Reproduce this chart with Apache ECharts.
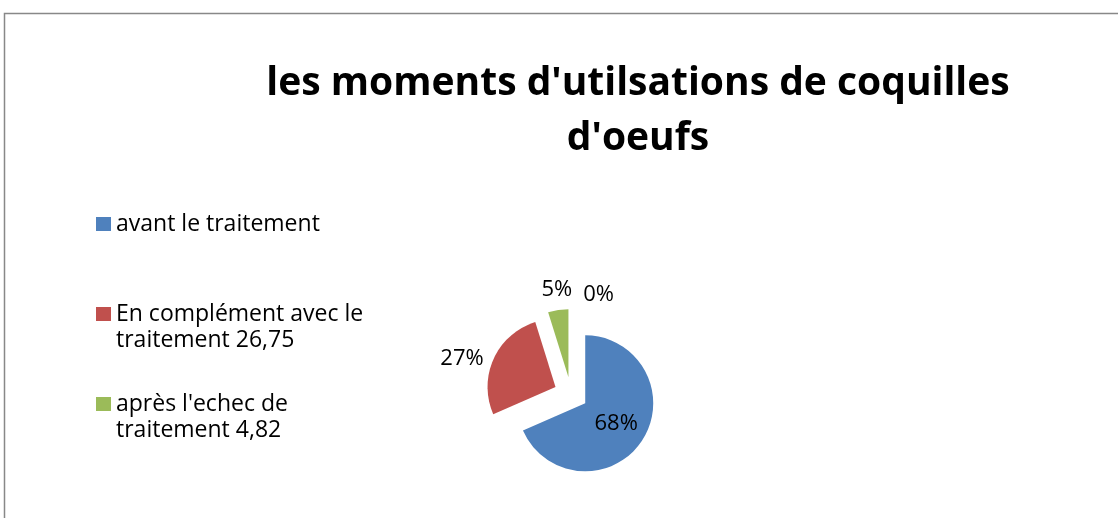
<!DOCTYPE html>
<html>
<head>
<meta charset="utf-8">
<title>les moments d'utilsations de coquilles d'oeufs</title>
<script src="https://cdn.jsdelivr.net/npm/echarts@6/dist/echarts.min.js"></script>
<style>
  html, body { margin: 0; padding: 0; background: #fff; }
  #chart { width: 1118px; height: 518px; }
</style>
</head>
<body>
<div id="chart"></div>
<script>
// categories and values (percent shares)
const categories = [
  "avant le traitement",
  "En complément avec le traitement 26,75",
  "après l'echec de traitement 4,82",
  "autre"
];
const values = [68.43, 26.75, 4.82, 0];
const colors = ["#4F81BD", "#C0504D", "#9BBB59", "#8064A2"];
// legend text, wrapped like the original (blank first line keeps the
// square level with the first line of text)
const legendText = [
  "avant le traitement",
  " \nEn complément avec le\ntraitement 26,75",
  " \naprès l'echec de\ntraitement 4,82"
];

const FONT = "Open Sans";
const chart = echarts.init(document.getElementById("chart"));

// one legend per entry so each can sit where the original has it
const legendTops = [211, 275, 365];
const legends = legendTops.map((top, i) => ({
  left: 96,
  top: top,
  orient: "vertical",
  padding: 0,
  itemWidth: 15,
  itemHeight: 14,
  selectedMode: false,
  icon: "rect",
  data: [categories[i]],
  formatter: () => legendText[i],
  textStyle: {
    fontFamily: FONT,
    fontSize: 23,
    lineHeight: 26,
    color: "#000"
  }
}));

// per-slice label tweaks (outside labels are placed like Excel's)
const labelLen = [0, 0, 20, 14];
const labelLen2 = [0, 10, -17, -43];

const option = {
  animation: false,
  backgroundColor: "#fff",
  color: colors,
  title: {
    text: "les moments d'utilsations de coquilles\nd'oeufs",
    left: 638,
    top: 56,
    padding: 0,
    textAlign: "center",
    textStyle: {
      fontFamily: FONT,
      fontWeight: "bold",
      fontSize: 39,
      lineHeight: 55,
      color: "#000"
    }
  },
  legend: legends,
  graphic: [{
    type: "rect",
    shape: { x: 4.5, y: 13.5, width: 1300, height: 700 },
    style: { fill: "none", stroke: "#888", lineWidth: 1.5 },
    silent: true
  }],
  series: [{
    type: "pie",
    center: [571, 394],
    radius: 68,
    startAngle: 90,
    clockwise: true,
    selectedMode: "multiple",
    selectedOffset: 17,
    percentPrecision: 0,
    minShowLabelAngle: -1,
    avoidLabelOverlap: false,
    emphasis: { disabled: true },
    labelLine: { show: false },
    data: categories.map((name, i) => ({
      name: name,
      value: values[i],
      selected: true,
      itemStyle: { color: colors[i] },
      label: i === 0 ? {
        show: true,
        position: "inside",
        formatter: "{d}%",
        color: "#000",
        fontFamily: FONT,
        fontSize: 22
      } : {
        show: true,
        position: "outside",
        formatter: "{d}%",
        color: "#000",
        fontFamily: FONT,
        fontSize: 22,
        distanceToLabelLine: 0
      },
      labelLine: { show: false, length: labelLen[i], length2: labelLen2[i] }
    }))
  }]
};

chart.setOption(option);
</script>
</body>
</html>
